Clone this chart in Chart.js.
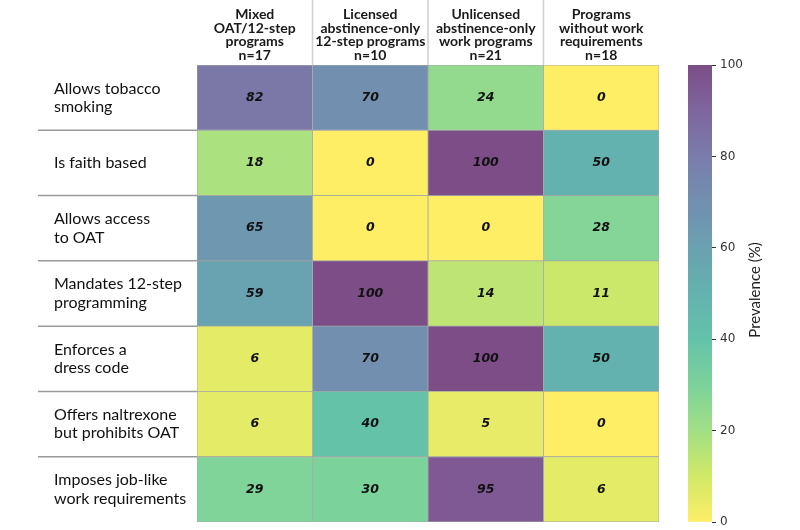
<!DOCTYPE html>
<html>
<head>
<meta charset="utf-8">
<script src="https://cdn.jsdelivr.net/npm/chart.js@4/dist/chart.umd.min.js"></script>
<style>
  body { margin: 0; background: #fff; }
  #wrap { position: relative; width: 800px; height: 530px; }
  #heat { position: absolute; left: 0; top: 0; }
  #cbar { position: absolute; left: 660px; top: 0; }
</style>
</head>
<body>
<div id="wrap">
  <canvas id="heat" width="680" height="530"></canvas>
  <canvas id="cbar" width="140" height="530"></canvas>
</div>
<script>
// Rows (program characteristics)
const rowLabels = [
    ['Allows tobacco', 'smoking'],
    ['Is faith based'],
    ['Allows access', 'to OAT'],
    ['Mandates 12-step', 'programming'],
    ['Enforces a', 'dress code'],
    ['Offers naltrexone', 'but prohibits OAT'],
    ['Imposes job-like', 'work requirements']
];

// Columns (program types)
const colLabels = [
    ['Mixed', 'OAT/12-step', 'programs', 'n=17'],
    ['Licensed', 'abstinence-only', '12-step programs', 'n=10'],
    ['Unlicensed', 'abstinence-only', 'work programs', 'n=21'],
    ['Programs', 'without work', 'requirements', 'n=18']
];

// Prevalence (%) per column, one value per row
const mixedOat = [82, 18, 65, 59, 6, 6, 29];
const licensed = [70, 0, 0, 100, 70, 40, 30];
const unlicensed = [24, 100, 0, 14, 100, 5, 95];
const noWork = [0, 50, 28, 11, 50, 0, 6];

const colorbarTicks = [0, 20, 40, 60, 80, 100];

const columns = [mixedOat, licensed, unlicensed, noWork];

// viridis stops, used reversed with alpha 0.7 on white
const viridis = ['#440154', '#482475', '#414487', '#355f8d', '#2a788e',
    '#21918c', '#22a884', '#44bf70', '#7ad151', '#bddf26', '#fde725'];

function hexToRgb(h) {
    return [parseInt(h.slice(1, 3), 16), parseInt(h.slice(3, 5), 16), parseInt(h.slice(5, 7), 16)];
}

function colorFor(v) {
    const t = (1 - v / 100) * (viridis.length - 1);
    const i = Math.min(Math.floor(t), viridis.length - 2);
    const f = t - i;
    const a = hexToRgb(viridis[i]), b = hexToRgb(viridis[i + 1]);
    const rgb = a.map((c, k) => c + (b[k] - c) * f).map(c => Math.round(c * 0.7 + 255 * 0.3));
    return 'rgb(' + rgb.join(',') + ')';
}

// Draws value text, row separators and header separators
const heatDecor = {
    id: 'heatDecor',
    afterDatasetsDraw(chart) {
        const ctx = chart.ctx;
        const area = chart.chartArea;
        const yScale = chart.scales.y;
        const xScale = chart.scales.x;
        ctx.save();
        // values
        ctx.font = 'italic bold 12.5px "DejaVu Sans"';
        ctx.fillStyle = '#111';
        ctx.textAlign = 'center';
        ctx.textBaseline = 'middle';
        chart.data.datasets.forEach((ds, di) => {
            chart.getDatasetMeta(di).data.forEach((el, ri) => {
                const p = el.getCenterPoint();
                ctx.fillText(String(columns[di][ri]), p.x, p.y);
            });
        });
        // row separators in the label area
        ctx.strokeStyle = '#9a9a9a';
        ctx.lineWidth = 1.5;
        for (let i = 1; i < rowLabels.length; i++) {
            const y = (yScale.getPixelForValue(i - 1) + yScale.getPixelForValue(i)) / 2;
            ctx.beginPath();
            ctx.moveTo(38, y);
            ctx.lineTo(area.left, y);
            ctx.stroke();
        }
        // header separators
        ctx.strokeStyle = '#cfcfcf';
        for (let c = 1; c < colLabels.length; c++) {
            const x = xScale.getPixelForValue(c);
            ctx.beginPath();
            ctx.moveTo(x, 0);
            ctx.lineTo(x, area.top);
            ctx.stroke();
        }
        ctx.restore();
    }
};

new Chart(document.getElementById('heat'), {
    type: 'bar',
    data: {
        labels: rowLabels,
        datasets: columns.map((col, ci) => ({
            label: colLabels[ci].join(' '),
            data: col.map(() => 1),
            backgroundColor: ctx => colorFor(columns[ctx.datasetIndex][ctx.dataIndex]),
            borderColor: 'rgba(160,160,160,0.9)',
            borderWidth: 0.75,
            borderSkipped: false,
            barPercentage: 1,
            categoryPercentage: 1
        }))
    },
    options: {
        indexAxis: 'y',
        responsive: false,
        animation: false,
        layout: { padding: { left: 54, right: 21, top: 0, bottom: 8 } },
        plugins: { legend: { display: false }, tooltip: { enabled: false } },
        scales: {
            x: { type: 'linear', stacked: true, min: 0, max: 4, display: false },
            x2: {
                type: 'category',
                labels: colLabels,
                position: 'top',
                offset: true,
                grid: { display: false, drawTicks: false },
                border: { display: false },
                ticks: {
                    font: { family: 'Lato', size: 14, weight: 'bold', lineHeight: 0.97 },
                    color: '#1a1a1a',
                    padding: 3,
                    maxRotation: 0,
                    autoSkip: false
                },
                afterFit(scale) { scale.height = 65; scale.paddingLeft = 0; scale.paddingRight = 0; }
            },
            y: {
                stacked: true,
                grid: { display: false },
                border: { display: false },
                ticks: {
                    crossAlign: 'far',
                    font: { family: 'Lato', size: 16, lineHeight: 1.15 },
                    color: '#111'
                },
                afterFit(scale) { scale.width = 143; scale.paddingTop = 0; scale.paddingBottom = 0; }
            }
        }
    },
    plugins: [heatDecor]
});

// Colorbar
const cbarTitle = {
    id: 'cbarTitle',
    afterDraw(chart) {
        const ctx = chart.ctx;
        ctx.save();
        ctx.translate(95, 290);
        ctx.rotate(-Math.PI / 2);
        ctx.font = '15px Lato';
        ctx.fillStyle = '#222';
        ctx.textAlign = 'center';
        ctx.textBaseline = 'middle';
        ctx.fillText('Prevalence (%)', 0, 0);
        ctx.restore();
    }
};

new Chart(document.getElementById('cbar'), {
    type: 'bar',
    data: {
        labels: [''],
        datasets: [{
            data: [[colorbarTicks[0], colorbarTicks[colorbarTicks.length - 1]]],
            barPercentage: 1,
            categoryPercentage: 1,
            backgroundColor: ctx => {
                const chart = ctx.chart;
                if (!chart.chartArea) return null;
                const y = chart.scales.y;
                const g = chart.ctx.createLinearGradient(0, y.getPixelForValue(0), 0, y.getPixelForValue(100));
                for (let v = 0; v <= 100; v += 5) g.addColorStop(v / 100, colorFor(v));
                return g;
            }
        }]
    },
    options: {
        responsive: false,
        animation: false,
        layout: { padding: { left: 28, right: 0, top: 65, bottom: 8 } },
        plugins: { legend: { display: false }, tooltip: { enabled: false } },
        scales: {
            x: { display: false },
            y: {
                position: 'right',
                min: 0,
                max: 100,
                afterBuildTicks(scale) { scale.ticks = colorbarTicks.map(v => ({ value: v })); },
                grid: { drawOnChartArea: false, tickLength: 4, color: '#333' },
                border: { display: false },
                ticks: { font: { family: 'DejaVu Sans', size: 12 }, color: '#333', padding: 4 },
                afterFit(scale) { scale.width = 88; scale.paddingTop = 0; scale.paddingBottom = 0; }
            }
        }
    },
    plugins: [cbarTitle]
});
</script>
</body>
</html>
